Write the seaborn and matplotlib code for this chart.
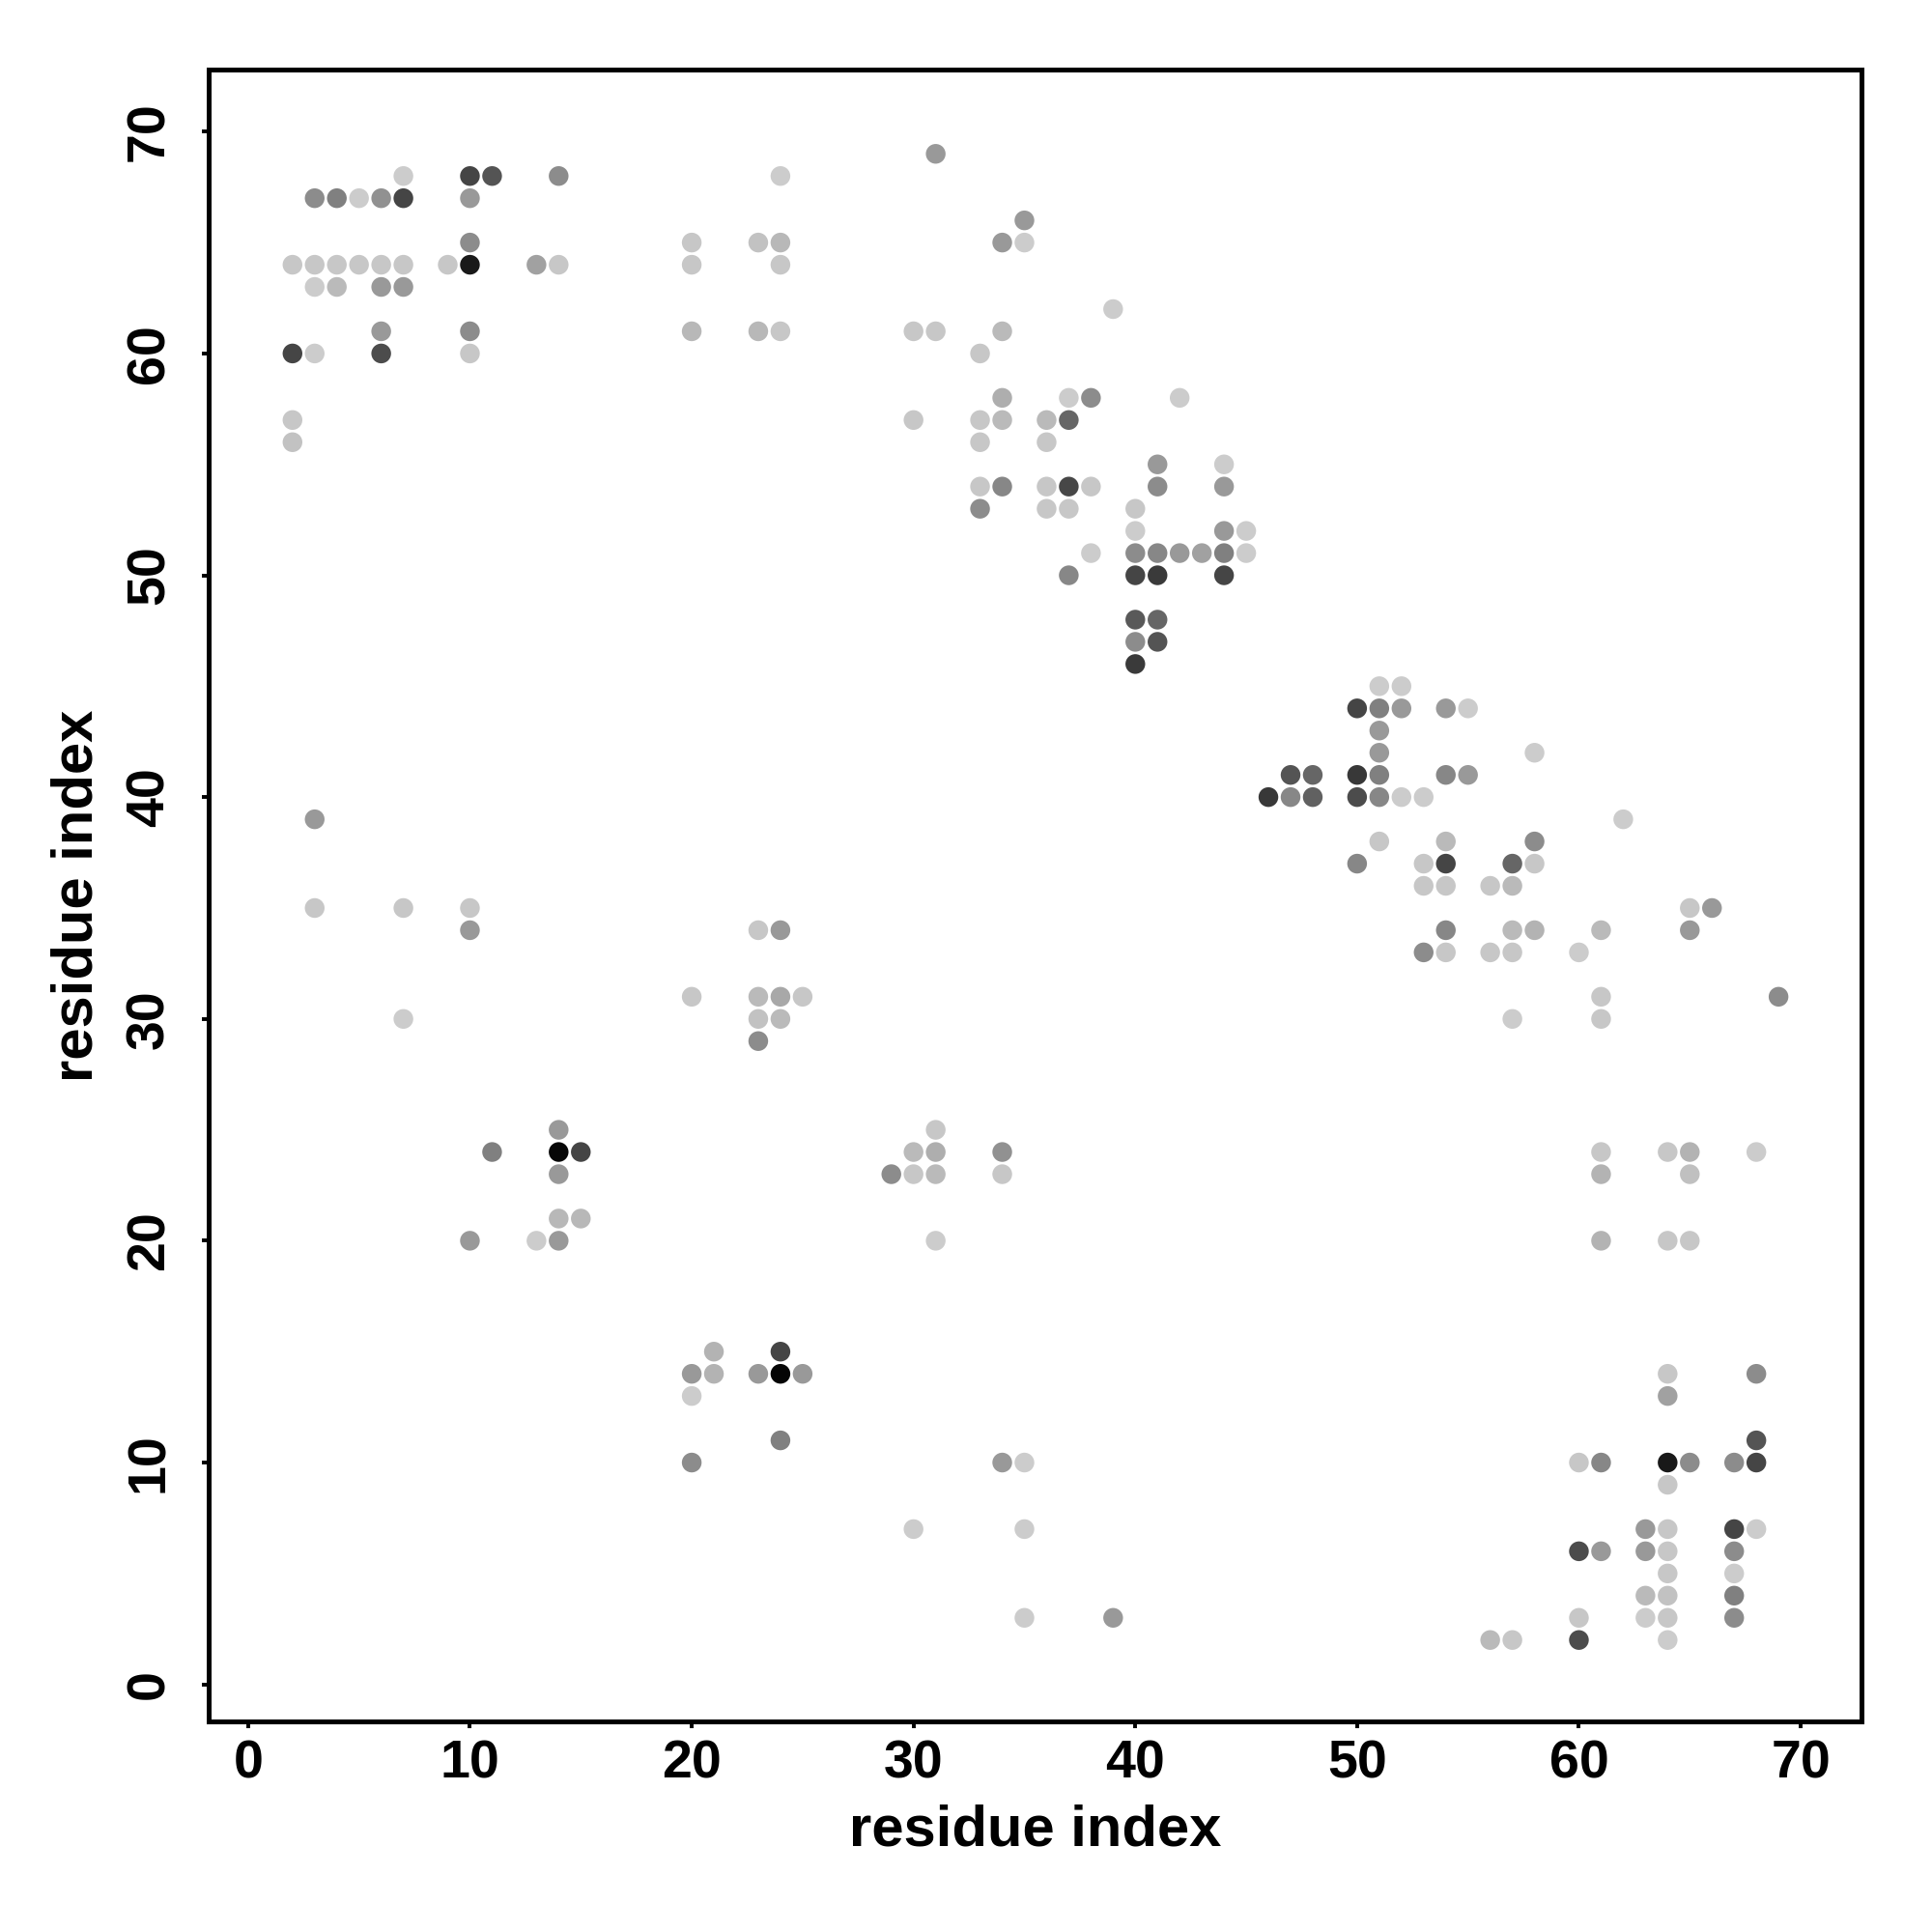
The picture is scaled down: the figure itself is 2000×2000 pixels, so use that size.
import pandas as pd
import seaborn as sb
import matplotlib.pyplot as plt

# contact map: residue i (x), residue j (y), grey level of the dot (0 = black, 1 = white)
res_x = [
    31,
    7, 10, 11, 14, 24,
    3, 4, 5, 6, 7, 10,
    35,
    10, 20, 23, 24, 34, 35,
    2, 3, 4, 5, 6, 7, 9, 10, 13, 14, 20, 24,
    3, 4, 6, 7,
    39,
    6, 10, 20, 23, 24, 30, 31, 34,
    2, 3, 6, 10, 33,
    34, 37, 38, 42,
    2, 30, 33, 34, 36, 37,
    2, 33, 36,
    41, 44,
    33, 34, 36, 37, 38, 41, 44,
    33, 36, 37, 40,
    40, 44, 45,
    38, 40, 41, 42, 43, 44, 45,
    37, 40, 41, 44,
    40, 41,
    40, 41,
    40,
    51, 52,
    50, 51, 52, 54, 55,
    51,
    51, 58,
    47, 48, 50, 51, 54, 55,
    46, 47, 48, 50, 51, 52, 53,
    3, 62,
    51, 54, 58,
    50, 53, 54, 57, 58,
    53, 54, 56, 57,
    3, 7, 10, 65, 66,
    10, 23, 24, 54, 57, 58, 61, 65,
    53, 54, 56, 57, 60,
    20, 23, 24, 25, 61, 69,
    7, 23, 24, 57, 61,
    23,
    14, 31,
    11, 14, 15, 30, 31, 34, 61, 64, 65, 68,
    14, 29, 30, 31, 34, 61, 65,
    14, 15,
    10, 13, 14, 31, 61, 64, 65,
    21, 24,
    20, 21, 23, 24, 25, 64, 68,
    20, 64,
    24, 68,
    20, 34, 35, 60, 61, 64, 65, 67, 68,
    64,
    30, 35, 63, 64, 67, 68,
    60, 61, 63, 64, 67,
    64, 67,
    63, 64, 67,
    35, 39, 60, 63, 64, 67,
    56, 57, 60, 64,
]
res_y = [
    69,
    68, 68, 68, 68, 68,
    67, 67, 67, 67, 67, 67,
    66,
    65, 65, 65, 65, 65, 65,
    64, 64, 64, 64, 64, 64, 64, 64, 64, 64, 64, 64,
    63, 63, 63, 63,
    62,
    61, 61, 61, 61, 61, 61, 61, 61,
    60, 60, 60, 60, 60,
    58, 58, 58, 58,
    57, 57, 57, 57, 57, 57,
    56, 56, 56,
    55, 55,
    54, 54, 54, 54, 54, 54, 54,
    53, 53, 53, 53,
    52, 52, 52,
    51, 51, 51, 51, 51, 51, 51,
    50, 50, 50, 50,
    48, 48,
    47, 47,
    46,
    45, 45,
    44, 44, 44, 44, 44,
    43,
    42, 42,
    41, 41, 41, 41, 41, 41,
    40, 40, 40, 40, 40, 40, 40,
    39, 39,
    38, 38, 38,
    37, 37, 37, 37, 37,
    36, 36, 36, 36,
    35, 35, 35, 35, 35,
    34, 34, 34, 34, 34, 34, 34, 34,
    33, 33, 33, 33, 33,
    31, 31, 31, 31, 31, 31,
    30, 30, 30, 30, 30,
    29,
    25, 25,
    24, 24, 24, 24, 24, 24, 24, 24, 24, 24,
    23, 23, 23, 23, 23, 23, 23,
    21, 21,
    20, 20, 20, 20, 20, 20, 20,
    15, 15,
    14, 14, 14, 14, 14, 14, 14,
    13, 13,
    11, 11,
    10, 10, 10, 10, 10, 10, 10, 10, 10,
    9,
    7, 7, 7, 7, 7, 7,
    6, 6, 6, 6, 6,
    5, 5,
    4, 4, 4,
    3, 3, 3, 3, 3, 3,
    2, 2, 2, 2,
]
shade = [
    .60,
    .80, .27, .33, .55, .80,
    .55, .50, .80, .57, .27, .60,
    .60,
    .55, .78, .76, .72, .60, .80,
    .78, .78, .78, .78, .78, .78, .78, .10, .63, .78, .78, .78,
    .80, .73, .60, .60,
    .80,
    .60, .55, .72, .72, .78, .78, .78, .73,
    .27, .80, .30, .78, .78,
    .68, .80, .55, .80,
    .78, .78, .78, .73, .73, .40,
    .76, .78, .78,
    .60, .80,
    .78, .53, .78, .28, .78, .55, .60,
    .55, .78, .78, .78,
    .80, .60, .80,
    .80, .55, .53, .60, .63, .50, .80,
    .53, .27, .23, .27,
    .35, .40,
    .55, .33,
    .23,
    .80, .80,
    .27, .50, .60, .60, .80,
    .60,
    .60, .80,
    .33, .40, .22, .50, .53, .60,
    .22, .53, .38, .30, .53, .80, .80,
    .60, .80,
    .78, .73, .55,
    .53, .78, .27, .40, .78,
    .78, .78, .78, .73,
    .78, .78, .78, .78, .60,
    .60, .78, .60, .53, .73, .70, .73, .60,
    .55, .78, .78, .78, .80,
    .78, .73, .66, .78, .78, .55,
    .80, .76, .73, .80, .78,
    .55,
    .60, .78,
    .50, .03, .27, .73, .68, .57, .78, .78, .70, .80,
    .60, .55, .78, .73, .78, .70, .75,
    .72, .72,
    .60, .80, .60, .80, .70, .78, .78,
    .70, .27,
    .60, .70, .60, .02, .60, .78, .55,
    .80, .63,
    .50, .33,
    .55, .60, .80, .78, .53, .10, .55, .55, .27,
    .78,
    .80, .80, .60, .78, .27, .80,
    .30, .60, .60, .78, .55,
    .78, .80,
    .73, .76, .50,
    .80, .60, .78, .80, .78, .55,
    .73, .78, .30, .80,
]

df = pd.DataFrame({'i': res_x, 'j': res_y, 'shade': shade})

sb.set_style('ticks')
plt.rcParams['font.family'] = ['Liberation Sans', 'DejaVu Sans']
plt.rcParams['font.weight'] = 'bold'
plt.rcParams['text.color'] = 'black'
plt.rcParams['axes.labelcolor'] = 'black'
plt.rcParams['xtick.color'] = 'black'
plt.rcParams['ytick.color'] = 'black'

fig = plt.figure(figsize=(10, 10), dpi=200)
ax = fig.add_axes([0.108, 0.109, 0.8555, 0.855])
sb.scatterplot(data=df, x='i', y='j', hue='shade', palette='gray', hue_norm=(0, 1),
               s=54, linewidth=0, legend=False, ax=ax)

ax.set_xlim(-1.78, 72.74)
ax.set_ylim(-1.67, 72.8)
ax.set_xticks(range(0, 71, 10))
ax.set_yticks(range(0, 71, 10))
for lab in ax.get_yticklabels():
    lab.set_rotation(90)
    lab.set_va('center')
ax.tick_params(labelsize=20, width=1.4, length=2.5, colors='black')
ax.tick_params(axis='x', pad=4)
ax.tick_params(axis='y', pad=10)
for sp in ax.spines.values():
    sp.set_visible(True)
    sp.set_linewidth(1.8)
    sp.set_color('black')
ax.set_xlabel('residue index', fontsize=21.5, fontweight='bold', labelpad=5.5)
ax.set_ylabel('residue index', fontsize=21.5, fontweight='bold', labelpad=8)

plt.savefig('out.png', dpi=200)
